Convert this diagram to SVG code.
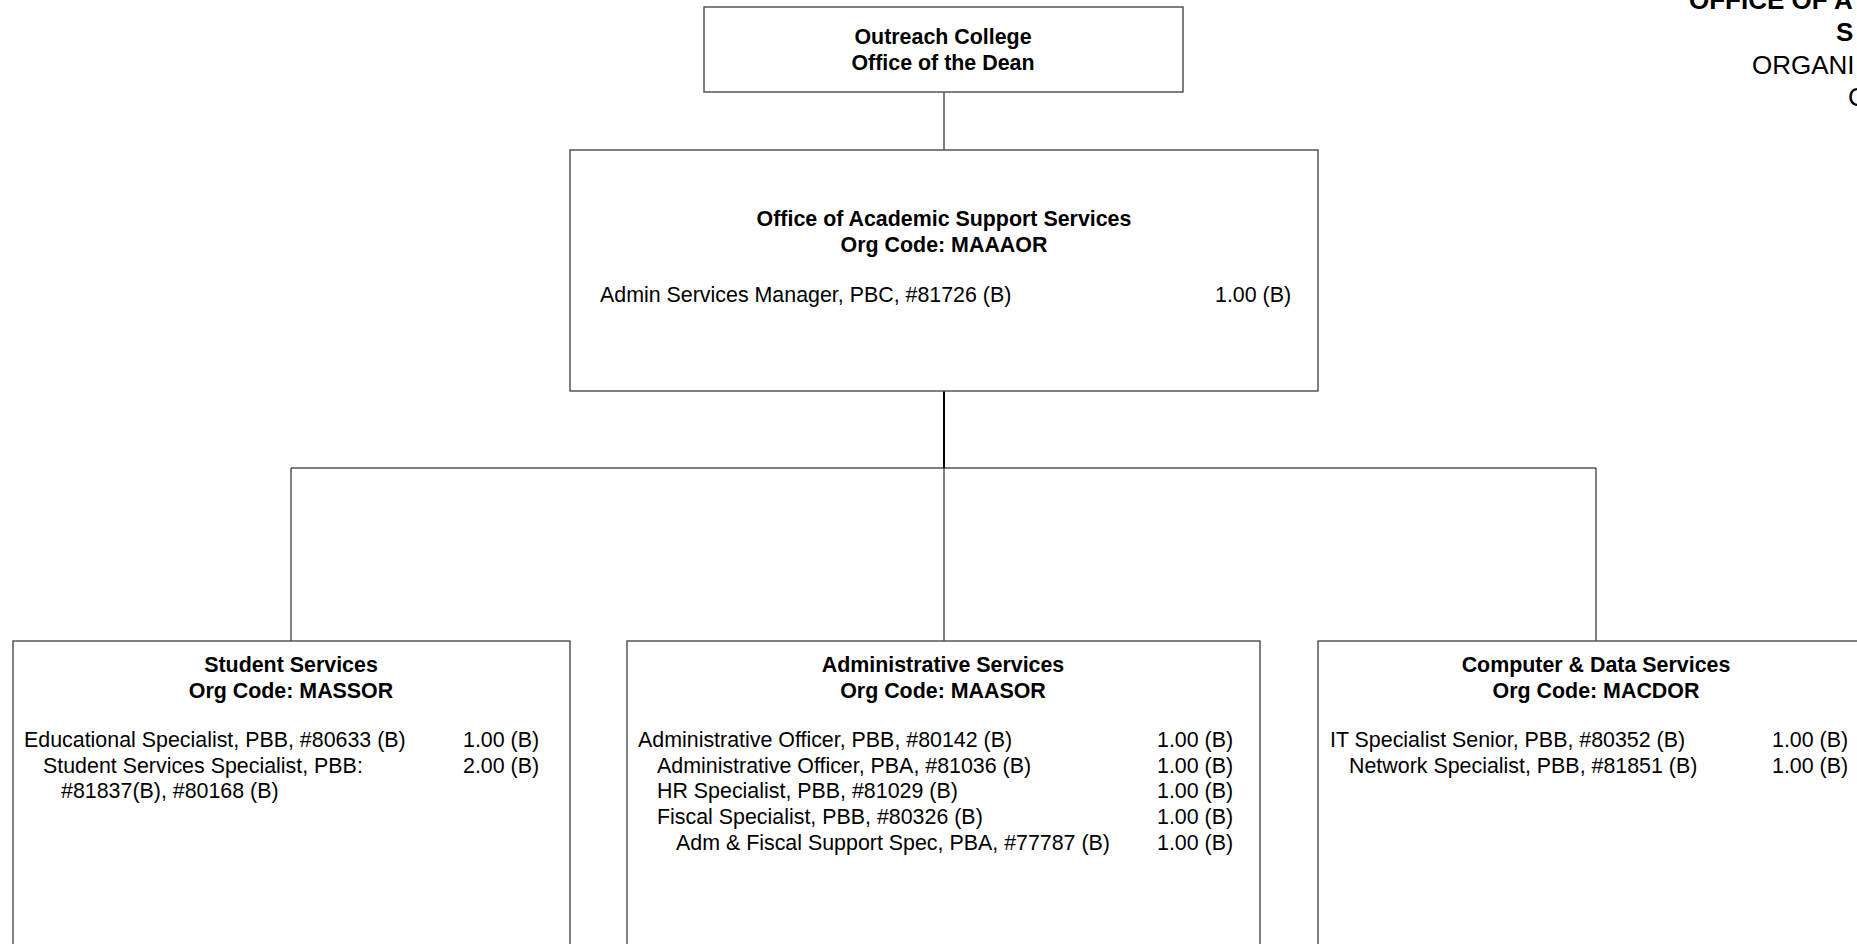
<svg xmlns="http://www.w3.org/2000/svg" width="1857" height="944" viewBox="0 0 1857 944">
<style>
.box{fill:#fff;stroke:#555;stroke-width:1.5}
.t{font-family:"Liberation Sans",Arial,sans-serif;font-size:21.4px;fill:#000}
.b{font-weight:bold}
.c{text-anchor:middle}
.hd{font-family:"Liberation Sans",Arial,sans-serif;font-size:26px;fill:#000}
.ln{stroke:#000;stroke-width:1;fill:none}
</style>
<rect width="1857" height="944" fill="#fff"/>
<g id="title">
<text class="hd b" x="1689" y="9">OFFICE OF A</text>
<text class="hd b" x="1836" y="41">S</text>
<text class="hd" x="1752" y="74">ORGANI</text>
<text class="hd" x="1848" y="106">C</text>
</g>
<g id="connectors">
<line class="ln" x1="944" y1="92" x2="944" y2="150"/>
<line class="ln" x1="944" y1="391" x2="944" y2="468" style="stroke-width:2"/>
<line class="ln" x1="291" y1="468" x2="1596" y2="468"/>
<line class="ln" x1="291" y1="468" x2="291" y2="641"/>
<line class="ln" x1="944" y1="468" x2="944" y2="641"/>
<line class="ln" x1="1596" y1="468" x2="1596" y2="641"/>
</g>
<g id="dean">
<rect class="box" x="704" y="7" width="479" height="85"/>
<text class="t b c" x="943" y="44">Outreach College</text>
<text class="t b c" x="943" y="70">Office of the Dean</text>
</g>
<g id="oass">
<rect class="box" x="570" y="150" width="748" height="241"/>
<text class="t b c" x="944" y="226">Office of Academic Support Services</text>
<text class="t b c" x="944" y="252">Org Code: MAAAOR</text>
<text class="t" x="600" y="302">Admin Services Manager, PBC, #81726 (B)</text>
<text class="t" x="1215" y="302">1.00 (B)</text>
</g>
<g id="student">
<rect class="box" x="13" y="641" width="557" height="320"/>
<text class="t b c" x="291" y="672">Student Services</text>
<text class="t b c" x="291" y="698">Org Code: MASSOR</text>
<text class="t" x="24" y="747">Educational Specialist, PBB, #80633 (B)</text>
<text class="t" x="463" y="747">1.00 (B)</text>
<text class="t" x="43" y="773">Student Services Specialist, PBB:</text>
<text class="t" x="463" y="773">2.00 (B)</text>
<text class="t" x="61" y="798">#81837(B), #80168 (B)</text>
</g>
<g id="admin">
<rect class="box" x="627" y="641" width="633" height="320"/>
<text class="t b c" x="943" y="672">Administrative Services</text>
<text class="t b c" x="943" y="698">Org Code: MAASOR</text>
<text class="t" x="638" y="747">Administrative Officer, PBB, #80142 (B)</text>
<text class="t" x="657" y="773">Administrative Officer, PBA, #81036 (B)</text>
<text class="t" x="657" y="798">HR Specialist, PBB, #81029 (B)</text>
<text class="t" x="657" y="824">Fiscal Specialist, PBB, #80326 (B)</text>
<text class="t" x="676" y="850">Adm &amp; Fiscal Support Spec, PBA, #77787 (B)</text>
<text class="t" x="1157" y="747">1.00 (B)</text>
<text class="t" x="1157" y="773">1.00 (B)</text>
<text class="t" x="1157" y="798">1.00 (B)</text>
<text class="t" x="1157" y="824">1.00 (B)</text>
<text class="t" x="1157" y="850">1.00 (B)</text>
</g>
<g id="computer">
<rect class="box" x="1318" y="641" width="560" height="320"/>
<text class="t b c" x="1596" y="672">Computer &amp; Data Services</text>
<text class="t b c" x="1596" y="698">Org Code: MACDOR</text>
<text class="t" x="1330" y="747">IT Specialist Senior, PBB, #80352 (B)</text>
<text class="t" x="1772" y="747">1.00 (B)</text>
<text class="t" x="1349" y="773">Network Specialist, PBB, #81851 (B)</text>
<text class="t" x="1772" y="773">1.00 (B)</text>
</g>
</svg>
